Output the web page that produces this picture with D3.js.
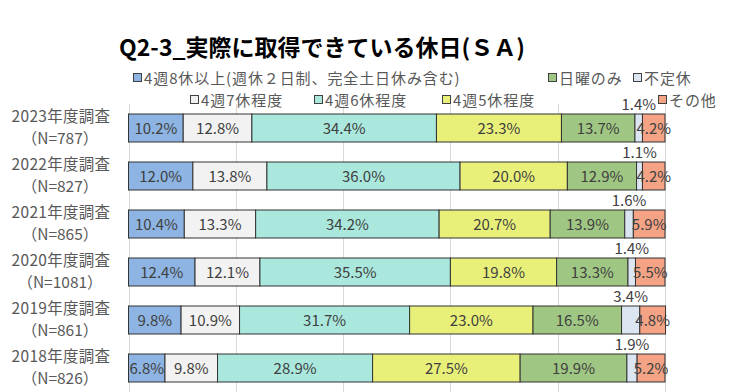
<!DOCTYPE html>
<html><head><meta charset="utf-8">
<script src="https://cdn.jsdelivr.net/npm/d3@7"></script>
<style>
html,body{margin:0;padding:0;background:#fff;}
svg{display:block;font-family:"Noto Sans CJK JP","Noto Sans",sans-serif;}
</style></head>
<body>
<svg id="chart" width="731" height="392"></svg>
<script>
const title = "Q2-3_実際に取得できている休日(ＳＡ)";
const categories = ["2023年度調査","2022年度調査","2021年度調査","2020年度調査","2019年度調査","2018年度調査"];
const sampleSizes = ["（N=787）","（N=827）","（N=865）","（N=1081）","（N=861）","（N=826）"];
const seriesNames = ["4週8休以上(週休２日制、完全土日休み含む)","4週7休程度","4週6休程度","4週5休程度","日曜のみ","不定休","その他"];
const seriesColors = ["#8DB4E2","#F2F2F2","#AAE8DD","#E9F07A","#9FC783","#DCE6F2","#F4A385"];
const s1 = [10.2,12.0,10.4,12.4,9.8,6.8];
const s2 = [12.8,13.8,13.3,12.1,10.9,9.8];
const s3 = [34.4,36.0,34.2,35.5,31.7,28.9];
const s4 = [23.3,20.0,20.7,19.8,23.0,27.5];
const s5 = [13.7,12.9,13.9,13.3,16.5,19.9];
const s6 = [1.4,1.1,1.6,1.4,3.4,1.9];
const s7 = [4.2,4.2,5.9,5.5,4.8,5.2];
const xTicks = [0,20,40,60,80,100];

// legend layout (positions only)
const legendPos = [[133,79],[548,79],[633,79],[190,101],[314,101],[442,101],[658,101]];
const legendOrder = [0,4,5,1,2,3,6];

const series = [s1,s2,s3,s4,s5,s6,s7];
const rows = categories.map((c,i)=>{
  let acc=0;
  return {cat:c, n:sampleSizes[i], segs: series.map((s,k)=>{const v=s[i]; const o={k, v, x0:acc, x1:acc+v}; acc+=v; return o;})};
});

const svg = d3.select("#chart");
const x = d3.scaleLinear().domain([0,100]).range([128.5,665]);
const y = d3.scaleBand().domain(categories).range([104,392]).paddingInner(20/48).paddingOuter(10/48);

// title
svg.append("text").attr("x",322).attr("y",56).attr("text-anchor","middle")
  .attr("font-size",23).attr("font-weight","bold").attr("fill","#000").text(title);

// gridlines
svg.append("g").selectAll("line").data(xTicks).join("line")
  .attr("x1",d=>Math.round(x(d))+0.5).attr("x2",d=>Math.round(x(d))+0.5)
  .attr("y1",104).attr("y2",392).attr("stroke","#D9D9D9").attr("stroke-width",1);

// category labels
const cl = svg.append("g").selectAll("g").data(rows).join("g");
cl.append("text").attr("x",61).attr("y",d=>y(d.cat)+y.bandwidth()/2-6)
  .attr("text-anchor","middle").attr("font-size",15.5).attr("letter-spacing",0.3).attr("fill","#595959").text(d=>d.cat);
cl.append("text").attr("x",60).attr("y",d=>y(d.cat)+y.bandwidth()/2+16)
  .attr("text-anchor","middle").attr("font-size",15.5).attr("fill","#595959").text(d=>d.n);

// bars
const rg = svg.append("g").selectAll("g").data(rows).join("g");
rg.selectAll("rect").data(d=>d.segs.map(s=>({...s,cat:d.cat}))).join("rect")
  .attr("x",d=>x(d.x0)).attr("width",d=>x(d.x1)-x(d.x0))
  .attr("y",d=>y(d.cat)).attr("height",y.bandwidth())
  .attr("fill",d=>seriesColors[d.k]).attr("stroke","#333").attr("stroke-width",1);

// labels
rg.selectAll("text").data(d=>d.segs.map(s=>({...s,cat:d.cat}))).join("text")
  .attr("x",d=>x((d.x0+d.x1)/2))
  .attr("y",d=>d.k===5 ? y(d.cat)-4 : y(d.cat)+y.bandwidth()/2+5.5)
  .attr("text-anchor","middle").attr("font-size",15).attr("fill","#404040")
  .text(d=>d.v.toFixed(1)+"%");

// legend
const lg = svg.append("g").selectAll("g").data(legendOrder).join("g")
  .attr("transform",(k,i)=>`translate(${legendPos[i][0]},${legendPos[i][1]})`);
lg.append("rect").attr("x",0.5).attr("y",-5.5).attr("width",8).attr("height",8)
  .attr("fill",k=>seriesColors[k]).attr("stroke","#404040").attr("stroke-width",1);
lg.append("text").attr("x",11).attr("y",5).attr("font-size",15).attr("letter-spacing",0.9).attr("fill","#595959").text(k=>seriesNames[k]);
</script>
</body></html>
